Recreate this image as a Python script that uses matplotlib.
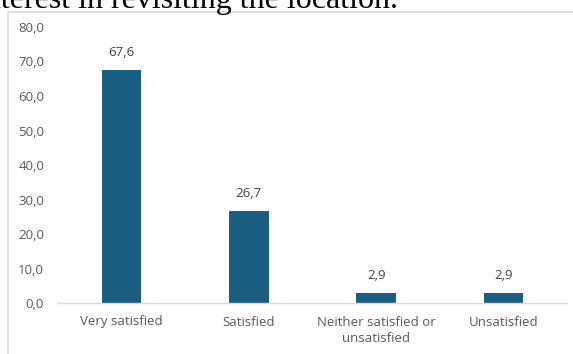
import matplotlib
matplotlib.use("Agg")
import matplotlib.pyplot as plt
from matplotlib.patches import Rectangle

categories = ["Very satisfied", "Satisfied", "Neither satisfied or\nunsatisfied", "Unsatisfied"]
values = [67.6, 26.7, 2.9, 2.9]
yticks = [0, 10, 20, 30, 40, 50, 60, 70, 80]
caption = "interest in revisiting the location."

W, H = 573, 354
fig = plt.figure(figsize=(W / 100, H / 100), dpi=100)
fig.patch.set_facecolor("white")

# chart border box
fig.patches.append(Rectangle((8 / W, -0.1), 1.2, (H - 12) / H + 0.1,
                             transform=fig.transFigure, fill=False,
                             edgecolor="#d9d9d9", linewidth=1.2))

# clipped caption text above the chart
fig.text(398 / W, 1 - 8 / H, caption, ha="right", va="baseline",
         family="Liberation Serif", fontsize=23, color="black")

ax = fig.add_axes([58 / W, 1 - 303 / H, (567 - 58) / W, (303 - 27) / H])
x = range(len(categories))
bars = ax.bar(x, values, width=0.31, color="#1a5e82")
for xi, v in zip(x, values):
    ax.annotate(f"{v:.1f}".replace(".", ","), (xi, v), xytext=(0, 8),
                textcoords="offset points", ha="center", va="bottom",
                fontsize=9.5, color="#404040", family="Open Sans")

ax.set_xlim(-0.5, len(categories) - 0.5)
ax.set_ylim(0, 80)
ax.set_yticks(yticks)
ax.set_yticklabels([f"{t:.1f}".replace(".", ",") for t in yticks],
                   fontsize=9.5, color="#595959", family="Open Sans")
ax.set_xticks(list(x))
ax.set_xticklabels(categories, fontsize=9.5, color="#595959", family="Open Sans",
                   linespacing=1.3)
ax.tick_params(axis="y", length=0, pad=10)
ax.tick_params(axis="x", length=0, pad=9)
for s in ["top", "right", "left"]:
    ax.spines[s].set_visible(False)
ax.spines["bottom"].set_color("#d9d9d9")
ax.spines["bottom"].set_linewidth(1)

fig.savefig("out.png", dpi=100)
